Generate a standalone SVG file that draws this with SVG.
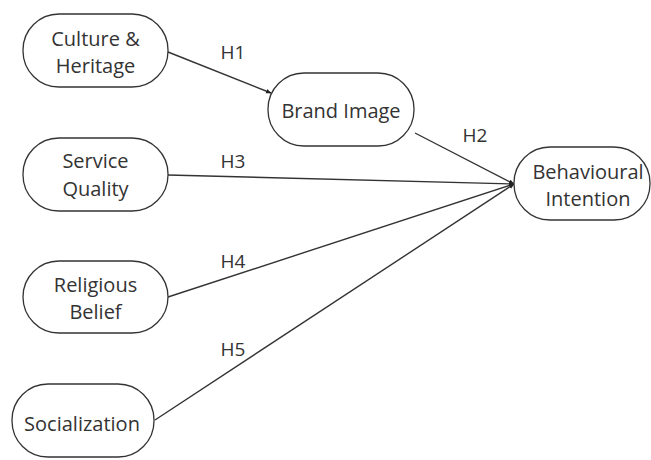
<svg xmlns="http://www.w3.org/2000/svg" width="651" height="460" viewBox="0 0 651 460">
<defs>
<style>
.n{fill:#fff;stroke:#333;stroke-width:1.3}
.t{font-family:"Open Sans",sans-serif;font-size:20px;fill:#333;text-anchor:middle}
.h{font-family:"Open Sans",sans-serif;font-size:19px;fill:#333;text-anchor:middle}
.c{stroke:#333;stroke-width:1.4;fill:none;marker-end:url(#a)}
</style>
<marker id="a" viewBox="0 0 10 10" refX="9" refY="5" markerWidth="4" markerHeight="4" orient="auto"><path d="M0,1 L10,5 L0,9 z" fill="#222"/></marker>
</defs>
<rect width="651" height="460" fill="#fff"/>
<g id="connectors">
<line class="c" x1="168" y1="52" x2="271" y2="93"/>
<line class="c" x1="415" y1="133" x2="514" y2="184"/>
<line class="c" x1="168" y1="175" x2="514" y2="184"/>
<line class="c" x1="168" y1="297" x2="514" y2="184"/>
<line class="c" x1="155" y1="420" x2="514" y2="184"/>
<text class="h" x="233" y="59">H1</text>
<text class="h" x="475" y="142">H2</text>
<text class="h" x="233" y="168">H3</text>
<text class="h" x="233" y="268">H4</text>
<text class="h" x="233" y="356">H5</text>
</g>
<g id="culture"><rect class="n" x="23" y="14" width="145" height="73" rx="36"/><text class="t" x="95.5" y="46">Culture &amp;</text><text class="t" x="95.5" y="73">Heritage</text></g>
<g id="brand"><rect class="n" x="268" y="73" width="146" height="73" rx="36"/><text class="t" x="341" y="118">Brand Image</text></g>
<g id="behaviour"><rect class="n" x="514" y="147" width="136" height="73" rx="36"/><text class="t" x="588" y="179">Behavioural</text><text class="t" x="588" y="206">Intention</text></g>
<g id="service"><rect class="n" x="23" y="138" width="145" height="73" rx="36"/><text class="t" x="95.5" y="168">Service</text><text class="t" x="95.5" y="196">Quality</text></g>
<g id="religious"><rect class="n" x="23" y="261" width="145" height="72" rx="36"/><text class="t" x="95.5" y="292">Religious</text><text class="t" x="95.5" y="319">Belief</text></g>
<g id="social"><rect class="n" x="12" y="384" width="142" height="73" rx="36"/><text class="t" x="82" y="431">Socialization</text></g>
</svg>
